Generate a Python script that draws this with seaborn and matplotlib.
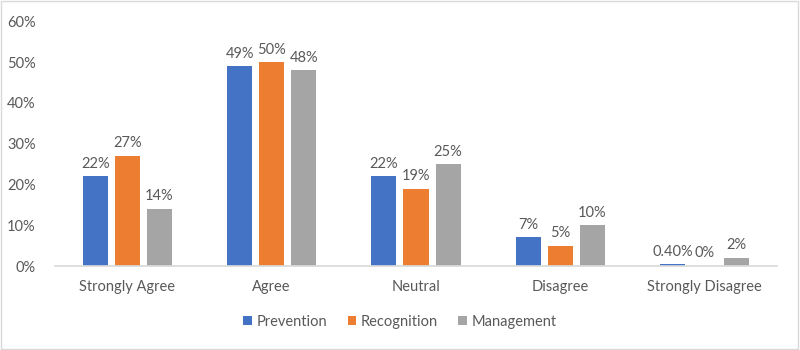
import pandas as pd
import matplotlib
matplotlib.use("Agg")
import matplotlib.pyplot as plt
from matplotlib.patches import Rectangle
from matplotlib.ticker import PercentFormatter
import seaborn as sns

# values (percent)
categories = ["Strongly Agree", "Agree", "Neutral", "Disagree", "Strongly Disagree"]
series = ["Prevention", "Recognition", "Management"]
prevention = [22, 49, 22, 7, 0.4]
recognition = [27, 50, 19, 5, 0]
management = [14, 48, 25, 10, 2]
colors = ["#4472C4", "#ED7D31", "#A5A5A5"]

df = pd.DataFrame({
    "category": categories * 3,
    "series": [s for s in series for _ in categories],
    "value": prevention + recognition + management,
})

sns.set_theme(style="white")
plt.rcParams["font.family"] = ["Lato", "DejaVu Sans"]
text_color = "#595959"

fig = plt.figure(figsize=(8, 3.5), dpi=100)
ax = fig.add_axes([0.069, 0.24, 0.902, 0.6986])

sns.barplot(data=df, x="category", y="value", hue="series", order=categories,
            hue_order=series, palette=colors, width=0.667, gap=0.22,
            saturation=1, linewidth=0, ax=ax, legend=True)

# data labels
for cont in ax.containers:
    labels = []
    for bar in cont:
        v = bar.get_height()
        labels.append(f"{v:.0f}%" if float(v).is_integer() else f"{v:.2f}%")
    ax.bar_label(cont, labels=labels, padding=4, fontsize=10.5, color=text_color)

ax.set_ylim(0, 60)
ax.set_yticks(range(0, 61, 10))
ax.yaxis.set_major_formatter(PercentFormatter(100, decimals=0))
ax.set_xlim(-0.5, len(categories) - 0.5)
ax.set_xlabel("")
ax.set_ylabel("")
ax.tick_params(axis="both", length=0, labelsize=10.5, colors=text_color)
ax.tick_params(axis="y", pad=14)
ax.tick_params(axis="x", pad=10)
for side in ["top", "right", "left"]:
    ax.spines[side].set_visible(False)
ax.spines["bottom"].set_color("#D9D9D9")
ax.grid(False)

handles, labels = ax.get_legend_handles_labels()
ax.legend(handles, labels, loc="center", ncol=3, frameon=False, fontsize=10.5,
          handlelength=0.6, handleheight=0.6, handletextpad=0.3,
          columnspacing=1.4, labelcolor=text_color)
ax.get_legend().set_bbox_to_anchor((0.5, 0.08), transform=fig.transFigure)

fig.patches.append(Rectangle((0.001, 0.002), 0.997, 0.995, transform=fig.transFigure,
                             fill=False, edgecolor="#D9D9D9", linewidth=1))

fig.savefig("out.png", dpi=100)
